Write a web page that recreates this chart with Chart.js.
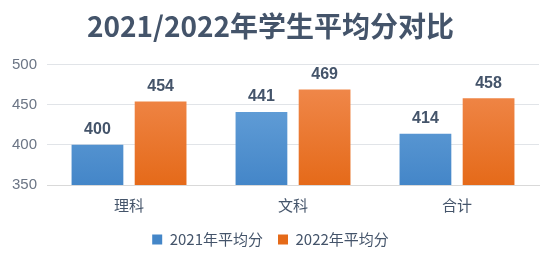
<!DOCTYPE html>
<html>
<head>
<meta charset="utf-8">
<script src="https://cdn.jsdelivr.net/npm/chart.js@4"></script>
<style>
  html, body { margin: 0; padding: 0; background: #fff; }
  #wrap { width: 554px; height: 263px; }
</style>
</head>
<body>
<div id="wrap"><canvas id="scoreChart"></canvas></div>
<script>
// data
const categories = ["理科", "文科", "合计"];
const seriesNames = ["2021年平均分", "2022年平均分"];
const scores2021 = [400, 441, 414];
const scores2022 = [454, 469, 458];
const yTicks = [350, 400, 450, 500];

function gradient(ctx, area, top, bottom) {
    if (!area) return bottom;
    let g = ctx.createLinearGradient(0, area.top, 0, area.bottom);
    g.addColorStop(0, top);
    g.addColorStop(1, bottom);
    return g;
}

// value labels above bars
const barLabels = {
    id: "barLabels",
    afterDatasetsDraw(chart) {
        let ctx = chart.ctx;
        ctx.save();
        ctx.font = "bold 16px 'Liberation Sans', sans-serif";
        ctx.fillStyle = "#44546a";
        ctx.textAlign = "center";
        ctx.textBaseline = "bottom";
        chart.data.datasets.forEach((ds, i) => {
            chart.getDatasetMeta(i).data.forEach((bar, j) => {
                ctx.fillText(ds.data[j], bar.x, bar.y - 7);
            });
        });
        ctx.restore();
    }
};

new Chart(document.getElementById("scoreChart").getContext("2d"), {
    type: "bar",
    data: {
        labels: categories,
        datasets: [
            {
                label: seriesNames[0],
                data: scores2021,
                backgroundColor: (c) => gradient(c.chart.ctx, c.chart.chartArea, "#70a9de", "#4486c8"),
                categoryPercentage: 0.77,
                barPercentage: 0.82
            },
            {
                label: seriesNames[1],
                data: scores2022,
                backgroundColor: (c) => gradient(c.chart.ctx, c.chart.chartArea, "#f28e55", "#e56a19"),
                categoryPercentage: 0.77,
                barPercentage: 0.82
            }
        ]
    },
    options: {
        responsive: true,
        maintainAspectRatio: false,
        animation: false,
        layout: { padding: { left: 2, right: 15, top: 0, bottom: 6 } },
        plugins: {
            title: {
                display: true,
                text: "2021/2022年学生平均分对比",
                color: "#44546a",
                font: { size: 28, weight: "bold", family: "'Noto Sans CJK SC', sans-serif" },
                padding: { top: 10, bottom: 21 }
            },
            legend: {
                position: "bottom",
                labels: {
                    color: "#44546a",
                    boxWidth: 10,
                    boxHeight: 10,
                    padding: 15,
                    font: { size: 15, family: "'Noto Sans CJK SC', sans-serif" }
                }
            },
            tooltip: { enabled: false }
        },
        scales: {
            x: {
                grid: { display: false },
                border: { color: "#d9d9d9" },
                ticks: {
                    color: "#44546a",
                    padding: 3,
                    font: { size: 15, family: "'Noto Sans CJK SC', sans-serif" }
                }
            },
            y: {
                min: yTicks[0],
                max: yTicks[yTicks.length - 1],
                afterBuildTicks: (axis) => { axis.ticks = yTicks.map(v => ({ value: v })); },
                border: { display: false },
                grid: { color: "#e1e4e8", drawTicks: false },
                ticks: {
                    color: "#6b7585",
                    padding: 10,
                    font: { size: 15, family: "'Liberation Sans', sans-serif" }
                }
            }
        }
    },
    plugins: [barLabels]
});
</script>
</body>
</html>
